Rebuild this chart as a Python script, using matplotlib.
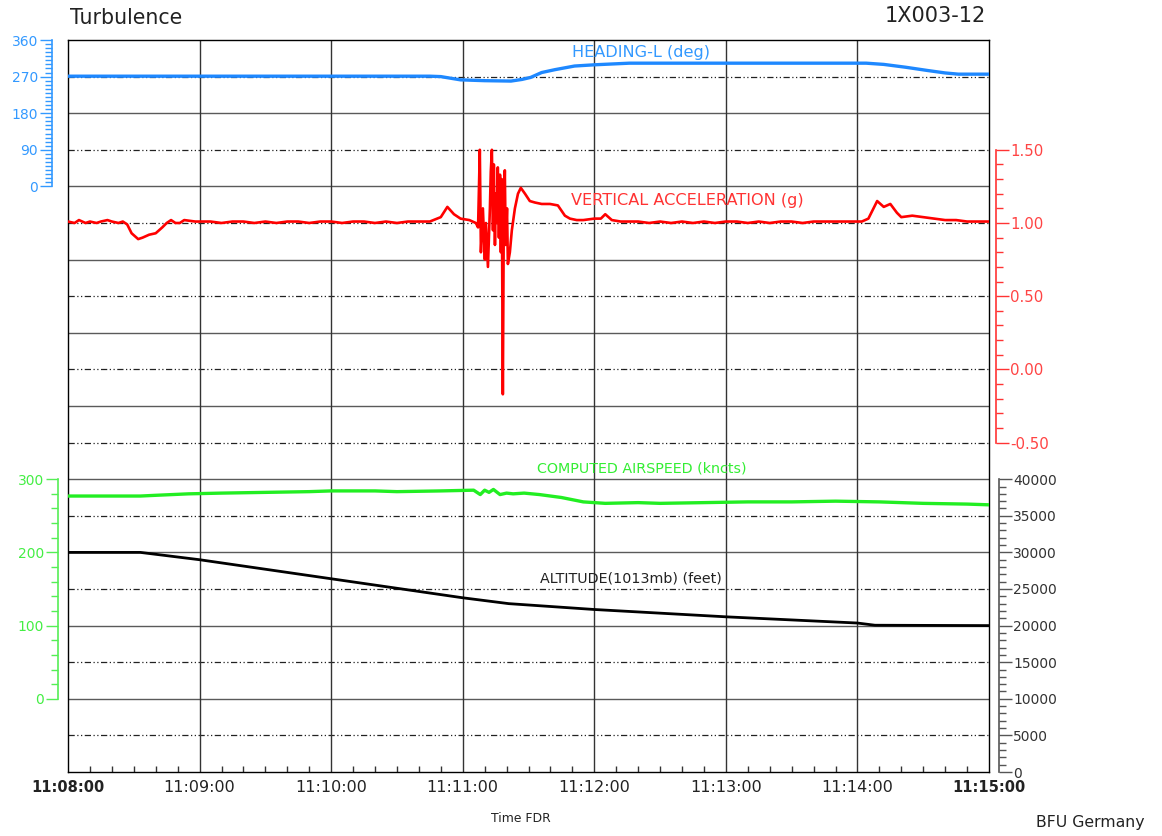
import matplotlib
matplotlib.use("Agg")
import matplotlib.pyplot as plt
from matplotlib.ticker import MultipleLocator, FixedLocator

plt.rcParams['font.family'] = ['DejaVu Sans']

# ---------------- data (seconds after 11:08:00) ----------------
time_labels = ["11:08:00", "11:09:00", "11:10:00", "11:11:00", "11:12:00", "11:13:00", "11:14:00", "11:15:00"]
time_ticks = [0, 60, 120, 180, 240, 300, 360, 420]

hdg_t = [0, 60, 120, 165, 170, 179, 190, 202, 207, 211, 216, 222, 231, 240, 256, 300, 364, 372, 382, 392, 400, 406, 420]
hdg_v = [271, 271, 271, 271, 270, 262, 260, 259, 263, 268, 280, 287, 296, 299, 303, 303, 303, 300, 293, 285, 279, 276, 276]

acc_t = [0, 3, 5, 8, 10, 13, 15, 18, 20, 23, 25, 27, 29, 32, 34, 37, 40, 43, 45, 47, 49, 51, 53, 58, 65, 70, 75, 80, 85,
         90, 95, 100, 105, 110, 115, 120, 125, 130, 135, 140, 145, 150, 155, 160, 165, 170, 173, 176, 179, 183, 186,
         187.0, 187.8, 188.3, 189.2, 190.1, 190.6, 191.5, 192.4, 192.8, 193.3, 193.8, 194.2, 194.7, 195.1, 195.6, 196.0,
         196.5, 197.0, 197.4, 197.8, 198.3, 198.7, 199.2, 199.6, 200.2, 200.6, 201.5, 202.4, 203.8, 205.2, 206.5, 208.4,
         210.6, 212.9, 216, 219.8, 223.4, 226.6, 228.9, 232, 235, 240, 243, 245, 248, 252, 255, 260, 265, 270, 275, 280,
         285, 290, 295, 300, 305, 310, 315, 320, 325, 330, 335, 340, 345, 350, 355, 362, 365, 369, 372, 375, 378, 380,
         385, 390, 395, 400, 405, 410, 415, 420]
acc_v = [1.01, 1.00, 1.02, 1.00, 1.01, 1.00, 1.01, 1.02, 1.01, 1.00, 1.01, 0.99, 0.93, 0.89, 0.90, 0.92, 0.93, 0.97,
         1.00, 1.02, 1.00, 1.00, 1.02, 1.01, 1.01, 1.00, 1.01, 1.01, 1.00, 1.01, 1.00, 1.01, 1.01, 1.00, 1.01, 1.01,
         1.00, 1.01, 1.01, 1.00, 1.01, 1.00, 1.01, 1.01, 1.01, 1.04, 1.11, 1.06, 1.03, 1.02, 1.00,
         0.97, 1.50, 0.80, 1.10, 0.75, 1.00, 0.70, 1.10, 1.35, 1.50, 0.95, 1.40, 0.85, 1.20, 1.00, 1.38,
         0.90, 1.33, 0.80, 1.30, -0.17, 0.95, 1.36, 0.85, 1.10, 0.72, 0.80, 0.95, 1.10, 1.20, 1.24, 1.20,
         1.15, 1.14, 1.13, 1.13, 1.12, 1.05, 1.03, 1.02, 1.02, 1.03, 1.03, 1.06, 1.02, 1.01, 1.01, 1.01, 1.00, 1.01,
         1.00, 1.01, 1.00, 1.01, 1.00, 1.01, 1.01, 1.00, 1.01, 1.00, 1.01, 1.01, 1.00, 1.01, 1.01, 1.01, 1.01,
         1.01, 1.03, 1.15, 1.11, 1.13, 1.07, 1.04, 1.05, 1.04, 1.03, 1.02, 1.02, 1.01, 1.01, 1.01]

spd_t = [0, 20, 33, 40, 55, 70, 90, 110, 120, 140, 150, 170, 185, 188, 190, 192, 194, 197, 200, 203, 208, 215,
         225, 235, 245, 260, 270, 290, 310, 330, 350, 370, 390, 410, 420]
spd_v = [277, 277, 277, 278, 280, 281, 282, 283, 284, 284, 283, 284, 285, 279, 285, 282, 286, 279, 281, 280, 281, 279,
         275, 269, 267, 268, 267, 268, 269, 269, 270, 269, 267, 266, 265]

alt_t = [0, 33, 60, 120, 180, 201, 240, 300, 360, 368, 420]
alt_v = [30000, 30000, 29000, 26400, 23800, 23000, 22200, 21200, 20350, 20050, 20000]

# ---------------- figure ----------------
W, H = 1162, 836
fig = plt.figure(figsize=(W / 100, H / 100), dpi=100)
L, R, T, B = 68, 989, 40, 772
rect = [L / W, 1 - B / H, (R - L) / W, (B - T) / H]

ax = fig.add_axes(rect)
ax.set_xlim(0, 420)
ax.set_ylim(20, 0)
ax.set_yticks([])
for s in ax.spines.values():
    s.set_color('black')
    s.set_linewidth(1.0)
for i in range(1, 20):
    if i % 2 == 0:
        ax.axhline(i, color='#5a5a5a', lw=1.0, zorder=1)
    else:
        ax.axhline(i, color='#222222', lw=0.9, ls=(0, (5, 2, 1, 2, 1, 2)), zorder=1)
for t in time_ticks[1:-1]:
    ax.axvline(t, color='#333333', lw=1.0, zorder=1)
ax.set_xticks(time_ticks)
ax.set_xticklabels(time_labels, fontsize=11.5, color='#222222')
ax.xaxis.set_minor_locator(MultipleLocator(10))
ax.tick_params(axis='x', which='minor', direction='in', length=4, width=1, color='#333333')
ax.tick_params(axis='x', which='major', direction='in', length=0, pad=6)
lbls = ax.get_xticklabels()
for k in (0, -1):
    lbls[k].set_fontweight('bold')
    lbls[k].set_fontsize(10.5)


def make_axis(ylim, side, outward, bounds, major, minor, color, lblcolor, fmt=None, lsize=10):
    a = fig.add_axes(rect, sharex=ax, facecolor='none')
    a.set_ylim(*ylim)
    for k, s in a.spines.items():
        s.set_visible(k == side)
    sp = a.spines[side]
    sp.set_position(('outward', outward))
    sp.set_bounds(*bounds)
    sp.set_color(color)
    sp.set_linewidth(1.2)
    a.tick_params(axis='x', which='both', bottom=False, labelbottom=False, top=False)
    if side == 'left':
        a.yaxis.tick_left()
    else:
        a.yaxis.tick_right()
    a.yaxis.set_major_locator(FixedLocator(major))
    a.yaxis.set_minor_locator(FixedLocator(minor))
    a.tick_params(axis='y', which='major', length=9, width=1, color=color, labelcolor=lblcolor,
                  labelsize=lsize, pad=1)
    a.tick_params(axis='y', which='minor', length=5, width=1, color=color)
    if fmt:
        a.set_yticklabels([fmt.format(v) for v in major])
    return a


blue = '#1E88FF'
red = '#FF0000'
green = '#22EE22'

ax_h = make_axis((-1440, 360), 'left', 11.5, (0, 360), [0, 90, 180, 270, 360],
                 list(range(0, 361, 10)), '#3399FF', '#3399FF')
ax_s = make_axis((-100, 900), 'left', 7.2, (0, 300), [0, 100, 200, 300],
                 list(range(0, 301, 20)), '#55EE55', '#44EE44')
ax_a = make_axis((-2.75, 2.25), 'right', 5, (-0.5, 1.5), [-0.5, 0.0, 0.5, 1.0, 1.5],
                 [-0.5 + 0.1 * k for k in range(21)], '#FF3333', '#FF4444', fmt='{:.2f}', lsize=10.8)
ax_alt = make_axis((0, 100000), 'right', 7.5, (0, 40000), list(range(0, 40001, 5000)),
                   list(range(0, 40001, 1000)), '#555555', '#333333')

ax_h.plot(hdg_t, hdg_v, color=blue, lw=2.4, zorder=5)
ax_a.plot(acc_t, acc_v, color=red, lw=1.9, zorder=5)
ax_s.plot(spd_t, spd_v, color=green, lw=2.4, zorder=5)
ax_alt.plot(alt_t, alt_v, color='black', lw=2.0, zorder=5)

def ftext(x, y, s, **kw):
    fig.text(x / W, 1 - y / H, s, ha='center', va='center', **kw)

ftext(126, 18, 'Turbulence', fontsize=14.8, color='#222222')
ftext(935, 16, '1X003-12', fontsize=15, color='#222222')
ftext(641, 52, 'HEADING-L (deg)', fontsize=11.6, color='#3399FF')
ftext(687, 200, 'VERTICAL ACCELERATION (g)', fontsize=11.6, color='#FF3333')
ftext(642, 469, 'COMPUTED AIRSPEED (kncts)', fontsize=10.3, color='#33EE33')
ftext(631, 578, 'ALTITUDE(1013mb) (feet)', fontsize=10.3, color='#222222')
ftext(521, 819, 'Time FDR', fontsize=8.9, color='#222222')
ftext(1090, 823, 'BFU Germany', fontsize=11.3, color='#222222')

fig.savefig('out.png', dpi=100)
